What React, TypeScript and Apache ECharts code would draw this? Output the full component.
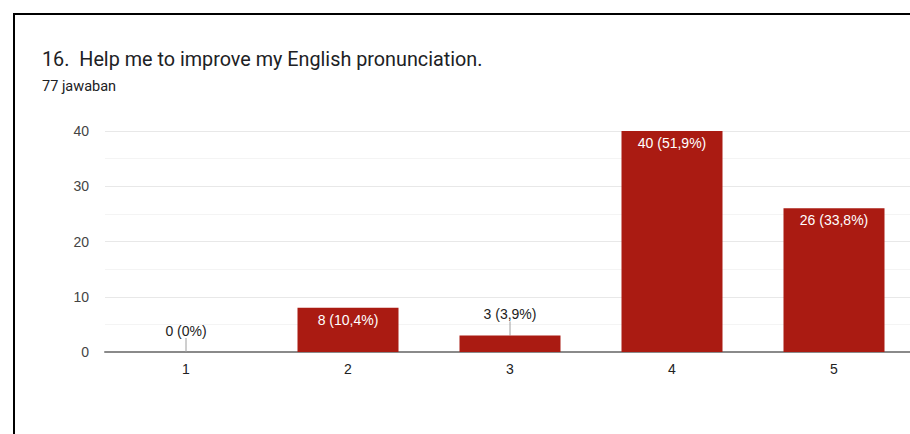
import React, { useEffect, useRef } from "react";
import * as echarts from "echarts";

const TITLE = "16.  Help me to improve my English pronunciation.";
const SUBTITLE = "77 jawaban";
const categories = ["1", "2", "3", "4", "5"];
const counts = [0, 8, 3, 40, 26];
const total = 77;
const yTicks = { min: 0, max: 40, interval: 10 };

const fmtPct = (v: number) => {
  const p = (v / total) * 100;
  let s = p.toFixed(1);
  if (s.endsWith(".0")) s = s.slice(0, -2);
  return s.replace(".", ",") + "%";
};

export default function App() {
  const ref = useRef<HTMLDivElement>(null);
  useEffect(() => {
    if (!ref.current) return;
    const chart = echarts.init(ref.current, undefined, { renderer: "svg" });
    const font = "Roboto, Arial, sans-serif";
    const afont = "Arial, 'Liberation Sans', sans-serif";
    const data = counts.map((v) => {
      const outside = v < 5;
      return {
        value: v,
        label: outside
          ? { position: "top", distance: 0, color: "#222222" }
          : { position: "insideTop", distance: 5, color: "#ffffff" },
        labelLine: { show: outside, lineStyle: { color: "#9e9e9e", width: 1 } },
      };
    });
    chart.setOption({
      animation: false,
      backgroundColor: "#ffffff",
      title: [
        {
          text: TITLE,
          left: 37,
          top: 44,
          textStyle: { fontFamily: font, fontSize: 19.8, fontWeight: "normal", color: "#202124" },
        },
        {
          text: SUBTITLE,
          left: 37,
          top: 74,
          textStyle: { fontFamily: font, fontSize: 14.5, fontWeight: "normal", color: "#202124" },
        },
      ],
      grid: { left: 105, width: 810, top: 131, height: 221, containLabel: false, outerBoundsMode: "none" },
      xAxis: {
        type: "category",
        data: categories,
        axisLine: { show: true, lineStyle: { color: "#8a8a8a", width: 2 } },
        axisTick: { show: false },
        axisLabel: { color: "#222222", fontFamily: afont, fontSize: 14, margin: 10 },
      },
      yAxis: {
        type: "value",
        min: yTicks.min,
        max: yTicks.max,
        interval: yTicks.interval,
        axisLine: { show: false },
        axisTick: { show: false },
        axisLabel: { color: "#444444", fontFamily: afont, fontSize: 14, margin: 16 },
        splitLine: { lineStyle: { color: "#e8e8e8", width: 1 } },
        minorTick: { show: false, splitNumber: 2 },
        minorSplitLine: { show: true, lineStyle: { color: "#f4f4f4", width: 1 } },
      },
      series: [
        {
          type: "bar",
          data,
          barWidth: 101,
          itemStyle: { color: "#AA1B12" },
          label: {
            show: true,
            fontFamily: afont,
            fontSize: 14,
            formatter: (p: any) => `${p.value} (${fmtPct(p.value)})`,
          },
          labelLayout: (p: any) => (counts[p.dataIndex] < 5 ? { dy: -14 } : {}),
        },
      ],
    });
    return () => chart.dispose();
  }, []);
  return (
    <div style={{ position: "fixed", left: 0, top: 0, width: 910, height: 434, background: "#fff", overflow: "hidden" }}>
      <div ref={ref} style={{ position: "absolute", left: 0, top: 0, width: 910, height: 434 }} />
      <div
        style={{
          position: "absolute",
          left: 13,
          top: 13,
          width: 1000,
          height: 1000,
          borderLeft: "2px solid #000",
          borderTop: "2px solid #000",
          pointerEvents: "none",
        }}
      />
    </div>
  );
}
